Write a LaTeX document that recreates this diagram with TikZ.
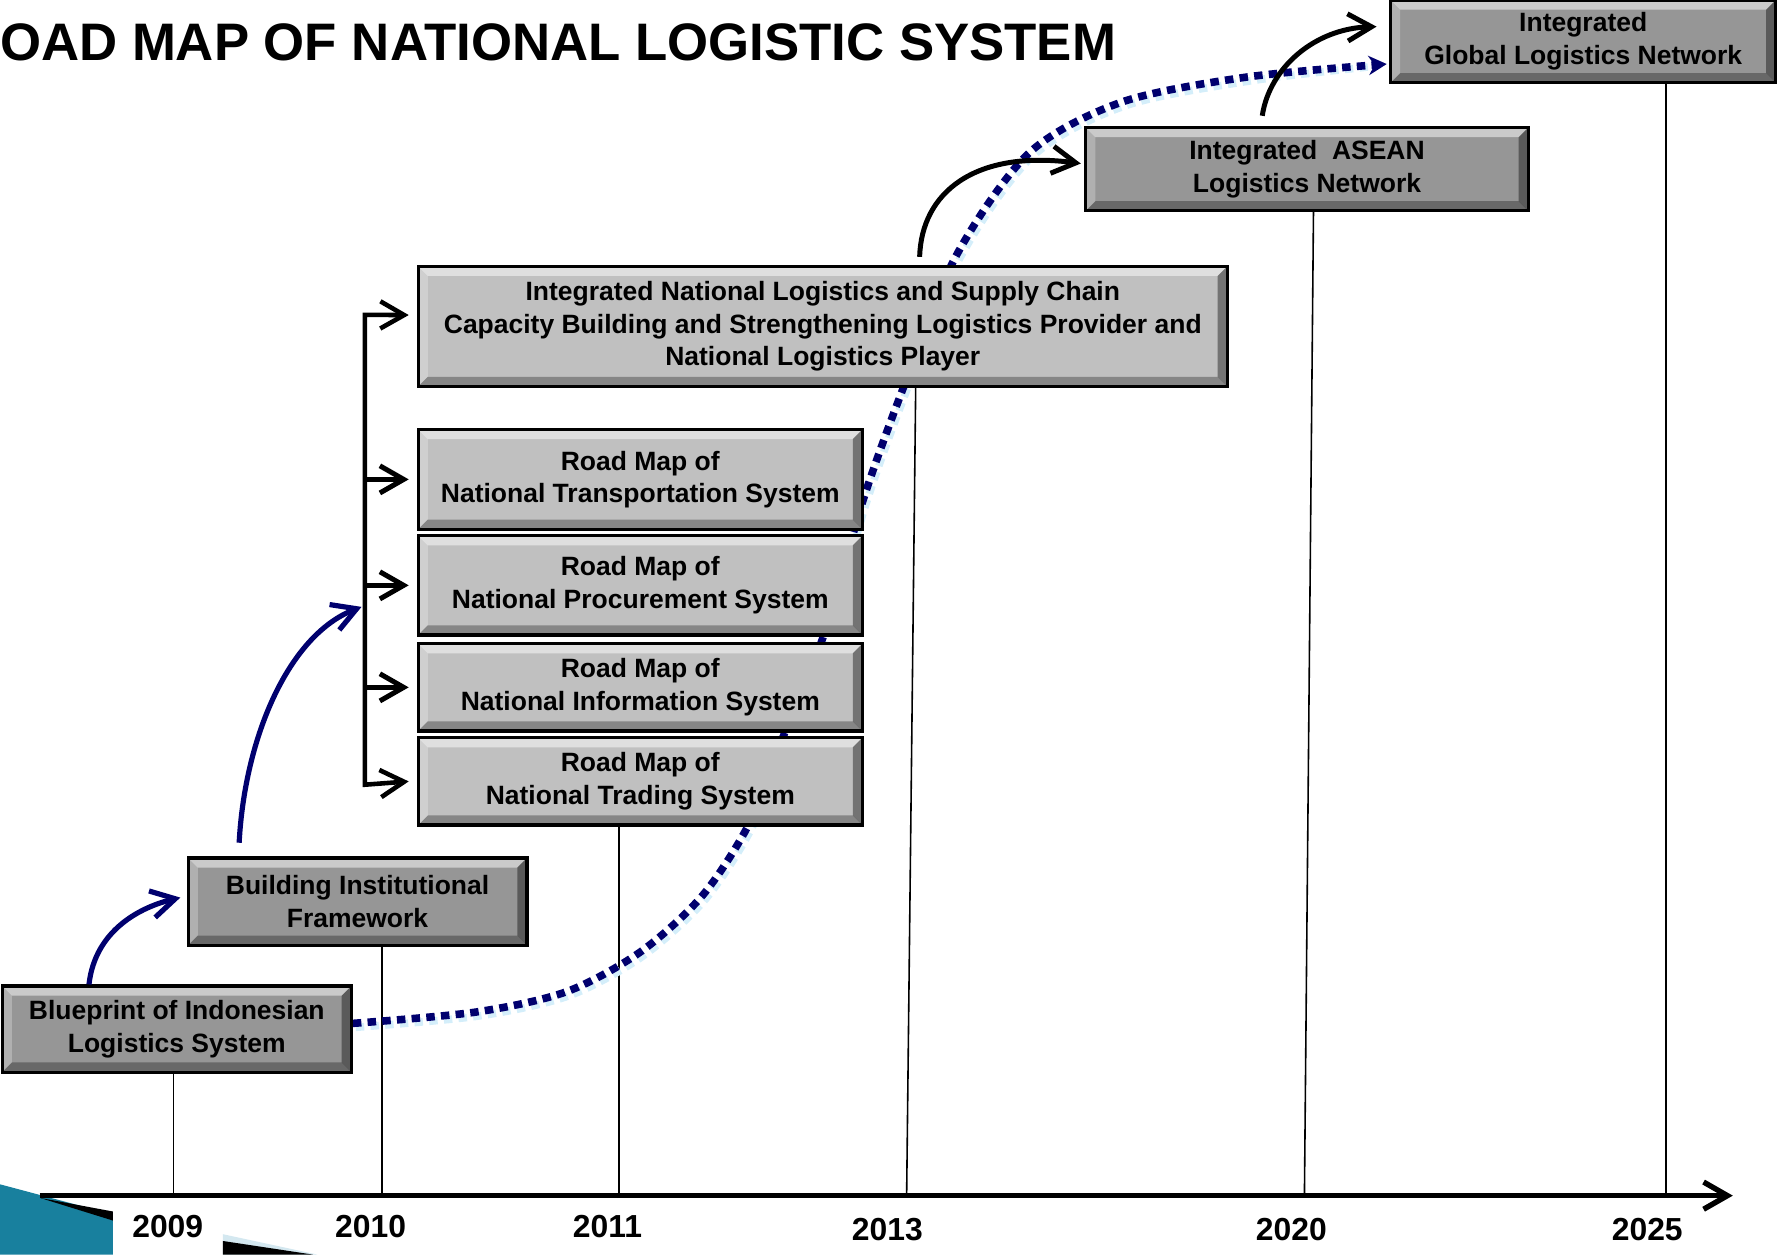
\documentclass[tikz,border=0pt]{standalone}
\usepackage{fontspec}
\setmainfont{Liberation Sans}
\usetikzlibrary{arrows.meta,backgrounds}
\definecolor{navyblue}{RGB}{0,0,110}
\definecolor{dotshadow}{RGB}{212,238,250}
\definecolor{boxlight}{RGB}{192,192,192}
\definecolor{boxdark}{RGB}{150,150,150}
\definecolor{cornerteal}{RGB}{24,128,158}
\definecolor{cornerpale}{RGB}{212,232,240}
\begin{document}
\begin{tikzpicture}[x=0.02cm,y=-0.02cm,
    bevel/.style={path picture={
        \coordinate (pnw) at (path picture bounding box.north west);
        \coordinate (pne) at (path picture bounding box.north east);
        \coordinate (psw) at (path picture bounding box.south west);
        \coordinate (pse) at (path picture bounding box.south east);
        \fill[white,opacity=.5] (pnw) -- (pne) -- ([shift={(-0.17cm,-0.17cm)}]pne) -- ([shift={(0.17cm,-0.17cm)}]pnw) -- cycle;
        \fill[white,opacity=.25] (pnw) -- ([shift={(0.17cm,-0.17cm)}]pnw) -- ([shift={(0.17cm,0.17cm)}]psw) -- (psw) -- cycle;
        \fill[black,opacity=.3] (psw) -- ([shift={(0.17cm,0.17cm)}]psw) -- ([shift={(-0.17cm,0.17cm)}]pse) -- (pse) -- cycle;
        \fill[black,opacity=.4] (pse) -- ([shift={(-0.17cm,0.17cm)}]pse) -- ([shift={(-0.17cm,-0.17cm)}]pne) -- (pne) -- cycle;}},
    road/.style={draw, line width=1.6pt, inner sep=0pt, align=center, bevel,
        font={\fontsize{13.3}{16.3}\selectfont\bfseries}},
    year/.style={anchor=base, font={\fontsize{16}{19}\selectfont\bfseries}},
    navyarrow/.style={navyblue, line width=2.6pt, -{Straight Barb[length=0.42cm,width=0.48cm]}},
    blackarrow/.style={line width=2.5pt, -{Straight Barb[length=0.42cm,width=0.48cm]}},
    bracket/.style={line width=2.3pt, {Straight Barb[length=0.42cm,width=0.48cm]}-{Straight Barb[length=0.42cm,width=0.48cm]}},
    dotpath/.style={line width=3.8pt, dash pattern=on 0.15cm off 0.11cm},
    timetick/.style={line width=0.8pt},
    axisline/.style={line width=2.7pt, -{Straight Barb[length=0.42cm,width=0.48cm]}}]
  \useasboundingbox (0,0) rectangle (1568,1106.6);
  \clip (0,0) rectangle (1568,1106.6);

  % corner of the slide
  \fill[cornerteal] (0,1045) -- (99.7,1071.6) -- (99.7,1107) -- (0,1107) -- cycle;
  \fill (35.3,1057) -- (99.7,1069) -- (99.7,1077) -- cycle;
  \fill[cornerpale] (196.6,1089) -- (280,1107) -- (196.6,1107) -- cycle;
  \fill (196.6,1095) -- (276,1107) -- (196.6,1107) -- cycle;

  \node[anchor=base east, font={\fontsize{26.5}{30}\selectfont\bfseries}] (title) at (991,53) {ROAD MAP OF NATIONAL LOGISTIC SYSTEM};

  % steps
  \node[road, fill=boxdark, minimum width=6.16cm, minimum height=1.52cm] (blue) at (156,908) {Blueprint of Indonesian\\Logistics System};
  \node[road, fill=boxdark, minimum width=5.98cm, minimum height=1.54cm] (build) at (315.5,795.5) {Building Institutional\\Framework};
  \node[road, fill=boxlight, minimum width=7.84cm, minimum height=1.54cm] (trade) at (565,689.5) {Road Map of\\National Trading System};
  \node[road, fill=boxlight, minimum width=7.84cm, minimum height=1.54cm] (info) at (565,606.5) {Road Map of\\National Information System};
  \node[road, fill=boxlight, minimum width=7.84cm, minimum height=1.75cm] (proc) at (565,516.5) {Road Map of\\National Procurement System};
  \node[road, fill=boxlight, minimum width=7.84cm, minimum height=1.76cm] (trans) at (565,423) {Road Map of\\National Transportation System};
  \node[road, fill=boxlight, minimum width=14.28cm, minimum height=2.12cm] (intl) at (726,288) {Integrated National Logistics and Supply Chain\\Capacity Building and Strengthening Logistics Provider and\\National Logistics Player};
  \node[road, fill=boxdark, minimum width=7.81cm, minimum height=1.47cm] (asean) at (1153.3,149.3) {Integrated\ \ ASEAN\\Logistics Network};
  \node[road, fill=boxdark, minimum width=6.8cm, minimum height=1.46cm] (global) at (1397,36.5) {Integrated\\Global Logistics Network};

  \begin{scope}[on background layer]
    \foreach \xa/\ya/\xb in {153/946/153, 337/834/337, 546/728/546, 808/341/800, 1159/186/1151, 1470/73/1470}
      \draw[timetick] (\xa,\ya) -- (\xb,1055);
    \draw[dotpath, dotshadow, transform canvas={shift={(0.05cm,-0.07cm)}}] plot[smooth] coordinates {([yshift=0.1cm]blue.east) (420,893) (500,875) (565,840) (620,790) (662,725) (693,645) (727,560) (762,440) (796,345) (843,227) (908,135) (990,90) (1100,68) ([xshift=-0.3cm,yshift=-0.37cm]global.west)};
    \draw[dotpath, navyblue, -{Stealth[length=0.32cm,width=0.34cm]}] plot[smooth] coordinates {([yshift=0.1cm]blue.east) (420,893) (500,875) (565,840) (620,790) (662,725) (693,645) (727,560) (762,440) (796,345) (843,227) (908,135) (990,90) (1100,68) ([xshift=-0.04cm,yshift=-0.4cm]global.west)};
  \end{scope}

  % time axis
  \draw[axisline] (35,1055) -- (1529,1055);
  \foreach \x/\yr in {148/2009, 327/2010, 536/2011}
    \node[year] (y\yr) at (\x,1092) {\yr};
  \foreach \x/\yr in {783/2013, 1139.5/2020, 1453.5/2025}
    \node[year] (y\yr) at (\x,1094.5) {\yr};

  % links between steps
  \coordinate (spine) at (322,0);
  \coordinate (spinetop) at (322,277.8);
  \coordinate (spinebottom) at (322,692.4);
  \coordinate (hub) at (319,535.5);
  \draw[navyarrow] ([xshift=-1.55cm]blue.north) .. controls (84,820) and (125,800) .. ([xshift=-0.11cm,yshift=0.07cm]build.west);
  \draw[navyarrow] ([xshift=-2.09cm,yshift=0.24cm]build.north) .. controls (216,650) and (255,560) .. (hub);
  \draw[bracket] ([xshift=-0.14cm,yshift=0.2cm]intl.west) -- (spinetop) -- (spinebottom) -- ([xshift=-0.14cm]trade.west);
  \foreach \b in {trans,proc,info}
    \draw[blackarrow] (spine |- \b.west) -- ([xshift=-0.14cm]\b.west);
  \draw[blackarrow] ([xshift=1.71cm,yshift=0.14cm]intl.north) .. controls (813,170) and (860,132) .. ([xshift=-0.06cm,yshift=0.1cm]asean.west);
  \draw[blackarrow] ([xshift=-0.79cm,yshift=0.18cm]asean.north) .. controls (1120,60) and (1160,25) .. ([xshift=-0.22cm,yshift=0.26cm]global.west);
\end{tikzpicture}
\end{document}
